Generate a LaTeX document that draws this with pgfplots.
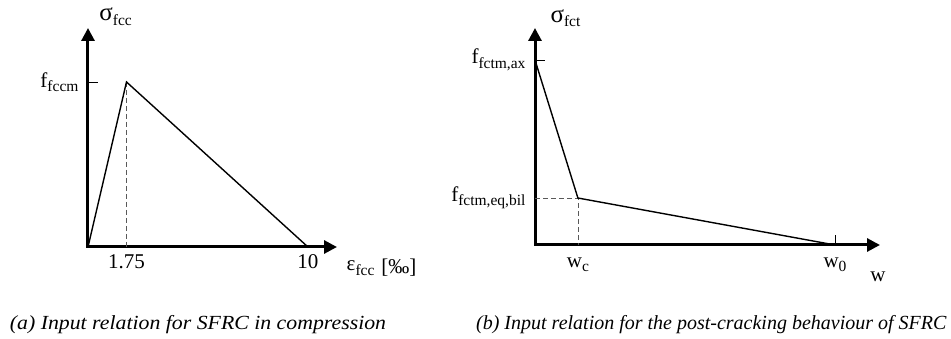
\documentclass[border=0pt]{standalone}
\usepackage{fontspec}
\setmainfont{Liberation Serif}
\newfontfamily\capfamily[FakeStretch=1.09]{Liberation Serif}
\newfontfamily\capfamilyb{Liberation Serif}
\usepackage{pgfplots}
\pgfplotsset{compat=1.18}
\usetikzlibrary{arrows.meta}

% label fonts: main symbol and lowered subscript
\newcommand\lbl{\fontsize{21}{23}\selectfont}
\newcommand\sub[1]{\raisebox{-4.5pt}{\fontsize{15.5}{17}\selectfont #1}}
\newcommand\sig{\fontsize{25}{27}\selectfont σ}
\newcommand\capfont{\capfamily\fontsize{20}{22}\selectfont\itshape}
\newcommand\capfontb{\capfamilyb\fontsize{20}{22}\selectfont\itshape}

\pgfplotsset{
  sketch/.style={
    scale only axis, clip=false,
    axis lines=left,
    axis line style={line width=3pt, line cap=rect, -{Triangle[length=13pt,width=13pt]}},
    tick align=inside, major tick length=10pt,
    tick style={black, line width=0.6pt},
    ticklabel style={font=\lbl},
  },
  curve/.style={black, line width=1.4pt, mark=none},
  guide/.style={gray!70!black, line width=0.7pt, dash pattern=on 5pt off 3pt, mark=none},
}

\begin{document}
\begin{tikzpicture}
\useasboundingbox (0pt,0pt) rectangle (951pt,339pt);

% (a) compression: linear rise to the peak, linear softening to 10 per mille
\begin{axis}[sketch, at={(88pt,92pt)}, anchor=south west,
  width=249pt, height=219pt,
  xmin=0, xmax=11.32, ymin=0, ymax=1.327,
  xtick={1.75,10}, xticklabels={1.75,10}, xtick style={draw=none},
  xticklabel style={yshift=-4pt},
  ytick={1}, yticklabels={f\sub{fccm}},
  yticklabel style={xshift=-6pt}]
  \addplot[guide] coordinates {(1.75,1) (1.75,0)};
  \addplot[curve] coordinates {(0,0) (1.75,1) (10,0)};
  \node[anchor=base west, font=\lbl] at (axis cs:0.36,1.37) {\sig\sub{fcc}};
  \node[anchor=base west, font=\lbl] at (axis cs:11.6,-0.145) {ε\sub{fcc}\,\,\raisebox{-3pt}{[‰]}};
\end{axis}

% (b) post-cracking: bilinear softening in terms of crack width
\begin{axis}[sketch, at={(535pt,94pt)}, anchor=south west,
  width=345pt, height=217pt,
  xmin=0, xmax=1.15, ymin=0, ymax=1.173,
  xtick={1}, xticklabels={w\sub{0}},
  extra x ticks={0.143}, extra x tick labels={w\sub{c}},
  extra x tick style={xtick style={draw=none}},
  xticklabel style={yshift=-9pt},
  ytick={1}, yticklabels={f\sub{fctm,ax}},
  extra y ticks={0.254}, extra y tick labels={f\sub{fctm,eq,bil}},
  extra y tick style={ytick style={draw=none}},
  yticklabel style={xshift=-6pt}]
  \addplot[guide] coordinates {(0,0.254) (0.143,0.254) (0.143,0)};
  \addplot[curve] coordinates {(0,1) (0.143,0.254) (1,0)};
  \node[anchor=base west, font=\lbl] at (axis cs:0.04,1.205) {\sig\sub{fct}};
  \node[anchor=center, font=\lbl] at (axis cs:1.143,-0.173) {w};
\end{axis}

\node[anchor=base, font=\capfont] at (198pt,9pt) {(a) Input relation for SFRC in compression};
\node[anchor=base east, font=\capfontb] at (950pt,9pt) {(b) Input relation for the post-cracking behaviour of SFRC};
\end{tikzpicture}
\end{document}
